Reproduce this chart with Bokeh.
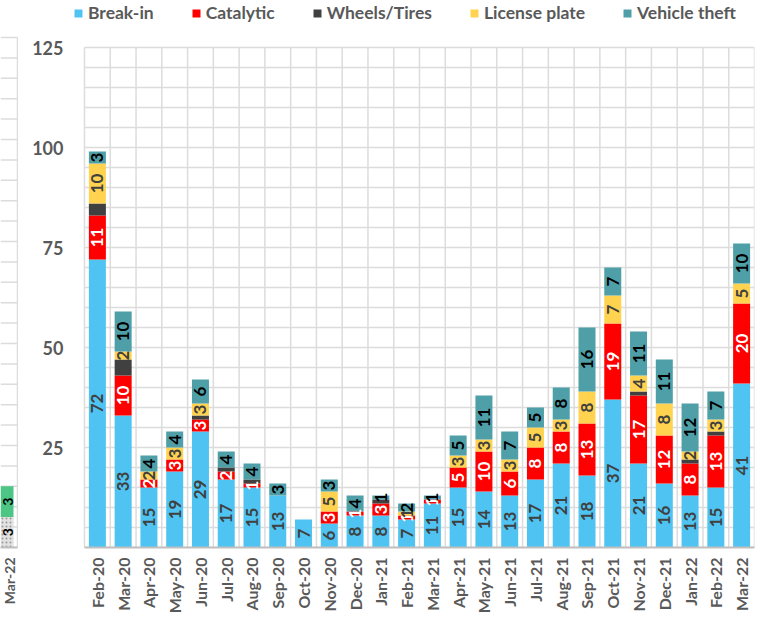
import math
from bokeh.plotting import figure
from bokeh.models import ColumnDataSource, Range1d, FixedTicker
from bokeh.layouts import row
from bokeh.core.properties import value
from bokeh.embed import file_html
from bokeh.resources import INLINE

# ---------------- data ----------------
months = ["Feb-20", "Mar-20", "Apr-20", "May-20", "Jun-20", "Jul-20", "Aug-20",
          "Sep-20", "Oct-20", "Nov-20", "Dec-20", "Jan-21", "Feb-21", "Mar-21",
          "Apr-21", "May-21", "Jun-21", "Jul-21", "Aug-21", "Sep-21", "Oct-21",
          "Nov-21", "Dec-21", "Jan-22", "Feb-22", "Mar-22"]
break_in = [72, 33, 15, 19, 29, 17, 15, 13, 7, 6, 8, 8, 7, 11, 15, 14, 13, 17, 21, 18, 37, 21, 16, 13, 15, 41]
catalytic = [11, 10, 2, 3, 3, 2, 1, 0, 0, 3, 1, 3, 1, 1, 5, 10, 6, 8, 8, 13, 19, 17, 12, 8, 13, 20]
wheels_tires = [3, 4, 0, 0, 1, 1, 1, 0, 0, 0, 0, 1, 0, 0, 0, 0, 0, 0, 0, 0, 0, 1, 0, 1, 1, 0]
license_plate = [10, 2, 2, 3, 3, 0, 0, 0, 0, 5, 0, 0, 1, 0, 3, 3, 3, 5, 3, 8, 7, 4, 8, 2, 3, 5]
vehicle_theft = [3, 10, 4, 4, 6, 4, 4, 3, 0, 3, 4, 1, 2, 1, 5, 11, 7, 5, 8, 16, 7, 11, 11, 12, 7, 10]

series_names = ["Break-in", "Catalytic", "Wheels/Tires", "License plate", "Vehicle theft"]
y_ticks = [25, 50, 75, 100, 125]
y_max = 125
grid_step = 5

# fragment of the neighbouring chart (left edge)
frag_category = ["Mar-22"]
frag_gray = [3]
frag_green = [3]
frag_max = 50
frag_step = 2

# ---------------- styles ----------------
colors = ["#4FC4F2", "#FF0000", "#404040", "#FFD34F", "#4F9FA9"]
label_colors = ["#404040", "#FFFFFF", None, "#404040", "#000000"]
FONT = "Lato"
TXT = "#595959"
GRID = "#DCDCDC"

n = len(months)
keys = ["break_in", "catalytic", "wheels", "license", "vehicle"]
data = dict(x=list(range(n)), break_in=break_in, catalytic=catalytic,
            wheels=wheels_tires, license=license_plate, vehicle=vehicle_theft)
source = ColumnDataSource(data)

# frame extends a little left/up so the legend sits inside it
p = figure(width=742, height=617, output_backend="svg", toolbar_location=None,
           x_range=Range1d(-0.5 - 11 / 25.77, n - 0.5), y_range=Range1d(0, y_max + 47 / 4),
           min_border_left=55, min_border_right=6, min_border_top=0, min_border_bottom=70)
p.outline_line_color = None
p.background_fill_color = "white"
p.xgrid.visible = False
p.ygrid.visible = False

# grid lines limited to the data area
vx = [i - 0.5 for i in range(n + 1)]
p.segment(x0=vx, x1=vx, y0=[0] * len(vx), y1=[y_max] * len(vx), line_color=GRID, line_width=1.5)
hy = list(range(0, y_max + 1, grid_step))
p.segment(x0=[-0.5] * len(hy), x1=[n - 0.5] * len(hy), y0=hy, y1=hy, line_color=GRID, line_width=1.5)

p.vbar_stack(keys, x="x", width=0.66, color=colors, line_color=None,
             source=source, legend_label=series_names)

# data labels
lx, ly, lt, lc = [], [], [], []
for i in range(n):
    base = 0
    for k, col in zip(keys, label_colors):
        v = data[k][i]
        if v > 0 and col is not None:
            lx.append(i)
            ly.append(base + v / 2)
            lt.append(str(v))
            lc.append(col)
        base += v
lsrc = ColumnDataSource(dict(x=lx, y=ly, t=lt, c=lc))
p.text(x="x", y="y", text="t", source=lsrc, angle=math.pi / 2,
       text_align="center", text_baseline="middle", text_color="c",
       text_font=value(FONT), text_font_style="bold", text_font_size="17px")

# axes
p.xaxis.ticker = FixedTicker(ticks=list(range(n)))
p.xaxis.bounds = (-0.5, n - 0.5)
p.xaxis.major_label_overrides = {i: m for i, m in enumerate(months)}
p.xaxis.major_label_orientation = math.pi / 2
p.xaxis.major_label_text_font = FONT
p.xaxis.major_label_text_font_style = "bold"
p.xaxis.major_label_text_font_size = "16px"
p.xaxis.major_label_text_color = TXT
p.xaxis.major_label_standoff = 10
p.xaxis.major_tick_out = 0
p.xaxis.major_tick_line_color = None
p.xaxis.minor_tick_line_color = None
p.xaxis.axis_line_color = "#BFBFBF"
p.xaxis.axis_line_width = 2

p.yaxis.ticker = FixedTicker(ticks=y_ticks)
p.yaxis.major_label_text_font = FONT
p.yaxis.major_label_text_font_style = "bold"
p.yaxis.major_label_text_font_size = "18px"
p.yaxis.major_label_text_color = TXT
p.yaxis.major_label_standoff = 10
p.yaxis.major_tick_out = 0
p.yaxis.major_tick_line_color = None
p.yaxis.minor_tick_line_color = None
p.yaxis.axis_line_color = None

# legend (location = bottom-left of legend box, px from frame bottom-left)
lg = p.legend[0]
lg.orientation = "horizontal"
lg.location = (0, 524)
lg.background_fill_alpha = 0
lg.border_line_color = None
lg.padding = 0
lg.margin = 0
lg.spacing = 37
lg.glyph_width = 10
lg.glyph_height = 10
lg.label_standoff = 5
lg.label_height = 17
lg.label_text_font = FONT
lg.label_text_font_style = "bold"
lg.label_text_font_size = "17.5px"
lg.label_text_color = TXT

# ---------------- left fragment ----------------
fsrc = ColumnDataSource(dict(x=[0], gray=frag_gray, green=frag_green))
f_edge = -0.5 + 17 / 13
f = figure(width=18, height=617, output_backend="svg", toolbar_location=None,
           x_range=Range1d(-0.5, -0.5 + 18 / 13), y_range=Range1d(0, frag_max + 37 / 10.2),
           min_border_left=0, min_border_right=0, min_border_top=0, min_border_bottom=70,
           y_axis_location=None)
f.outline_line_color = None
f.xgrid.visible = False
f.ygrid.visible = False
fy = list(range(0, frag_max + 1, frag_step))
f.segment(x0=[-0.5] * len(fy), x1=[f_edge] * len(fy), y0=fy, y1=fy, line_color=GRID, line_width=1.5)
f.segment(x0=[f_edge], x1=[f_edge], y0=[0], y1=[frag_max], line_color=GRID, line_width=1.5)
f.vbar(x="x", bottom=0, top="gray", width=1.0, source=fsrc, fill_color="#E2E2E2",
       line_color=None, hatch_pattern=".", hatch_color="#9A9A9A", hatch_scale=4)
f.vbar_stack(["gray", "green"], x="x", width=1.0, color=["#E2E2E2", "#4DC585"],
             fill_alpha=[0, 1], line_color=None, source=fsrc)
fl_y = [frag_gray[0] / 2, frag_gray[0] + frag_green[0] / 2]
fl_t = [str(frag_gray[0]), str(frag_green[0])]
f.text(x=[0.1, 0.1], y=fl_y, text=fl_t, angle=math.pi / 2, text_align="center",
       text_baseline="middle", text_color="#000000", text_font=value(FONT),
       text_font_style="bold", text_font_size="14px")
f.xaxis.ticker = FixedTicker(ticks=[0.1])
f.xaxis.bounds = (-0.5, f_edge)
f.xaxis.major_label_overrides = {0.1: frag_category[0]}
f.xaxis.major_label_orientation = math.pi / 2
f.xaxis.major_label_text_font = FONT
f.xaxis.major_label_text_font_style = "bold"
f.xaxis.major_label_text_font_size = "14px"
f.xaxis.major_label_text_color = TXT
f.xaxis.major_label_standoff = 10
f.xaxis.major_tick_out = 0
f.xaxis.major_tick_line_color = None
f.xaxis.minor_tick_line_color = None
f.xaxis.axis_line_color = "#BFBFBF"
f.xaxis.axis_line_width = 2

layout = row(f, p, spacing=0)
open("out.html", "w").write(file_html(layout, INLINE))
